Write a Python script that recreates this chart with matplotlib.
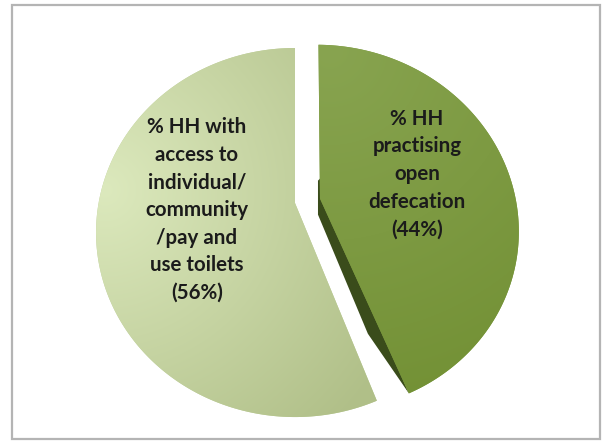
import numpy as np
import matplotlib.pyplot as plt
from matplotlib.patches import PathPatch, Polygon, Rectangle
from matplotlib.path import Path

# Sanitation split, share of households (%)
labels = [
    "% HH\npractising\nopen\ndefecation\n(44%)",
    "% HH with\naccess to\nindividual/\ncommunity\n/pay and\nuse toilets\n(56%)",
]
shares = [44, 56]
explode = [0.13, 0.0]

W, H = 603, 441

# tilted disc: where the pie centre lands on the canvas and how the
# far half gets squeezed (simple perspective)
CX, CY = 295, 203
RX, RY = 196.4, 179.8
PERSP = 0.16


def project(uv):
    u, v = uv[:, 0], uv[:, 1]
    d = 1 + PERSP * v
    return np.column_stack([CX + RX * u / d, CY - RY * v / d])


def gradient(ax, clip, p0, c0, c1, span):
    yy, xx = np.mgrid[0:H, 0:W] + 0.5
    t = np.hypot(xx - p0[0], yy - p0[1]) / span
    t = np.clip(t, 0, 1)[..., None]
    c0 = np.array(c0) / 255
    c1 = np.array(c1) / 255
    img = c0 * (1 - t) + c1 * t
    im = ax.imshow(img, extent=(0, W, H, 0), origin="upper",
                   interpolation="bilinear", zorder=clip.get_zorder())
    im.set_clip_path(clip)
    return im


fig = plt.figure(figsize=(W / 100, H / 100), dpi=100)
ax = fig.add_axes([0, 0, 1, 1])
ax.set_xlim(0, W)
ax.set_ylim(H, 0)
ax.axis("off")

# slices go clockwise from 12 o'clock
faces = []
start = 90.0
for share, ex in zip(shares, explode):
    sweep = 360.0 * share / sum(shares)
    t1, t2 = start - sweep, start
    mid = np.radians((t1 + t2) / 2)
    centre = np.array([ex * np.cos(mid), ex * np.sin(mid)])
    th = np.radians(np.linspace(t1, t2, 240))
    arc = centre + np.column_stack([np.cos(th), np.sin(th)])
    poly = project(np.vstack([centre, arc]))
    faces.append((poly, poly[0], poly[1]))
    start = t1

dark_poly, dark_c, dark_tip = faces[0]
light_poly, _, _ = faces[1]

# light slice
light = PathPatch(Path(light_poly, closed=True), facecolor=(0.75, 0.81, 0.62),
                  edgecolor="none", zorder=2)
ax.add_patch(light)
gradient(ax, light, (105, 190), (220, 233, 189), (176, 191, 136), 330)

# cut face of the exploded slice
mid_pt = dark_c + 0.55 * (dark_tip - dark_c)
side = Polygon([dark_c + (0, -20), dark_tip, mid_pt + (-1, 28),
                dark_c + (-2, 16), dark_c + (-2, -18)],
               closed=True, facecolor="#3a4c1b", edgecolor="none", zorder=3)
ax.add_patch(side)

# dark slice
dark = PathPatch(Path(dark_poly, closed=True), facecolor="#7b9a3e",
                 edgecolor="none", zorder=4)
ax.add_patch(dark)
gradient(ax, dark, (330, 50), (136, 164, 80), (114, 144, 52), 380)

txt = dict(ha="center", va="center", fontsize=14.8, fontweight="bold",
           family=["Lato", "DejaVu Sans"], color="#1b1b1b", linespacing=1.48,
           zorder=6)
ax.text(417, 174, labels[0], **txt)
ax.text(197, 210, labels[1], **txt)

# chart frame
ax.add_patch(Rectangle((12, 5), 588, 434, facecolor="none",
                       edgecolor="#b4b4b4", lw=1.6, zorder=7))

fig.savefig("out.png", dpi=100, facecolor="white")
